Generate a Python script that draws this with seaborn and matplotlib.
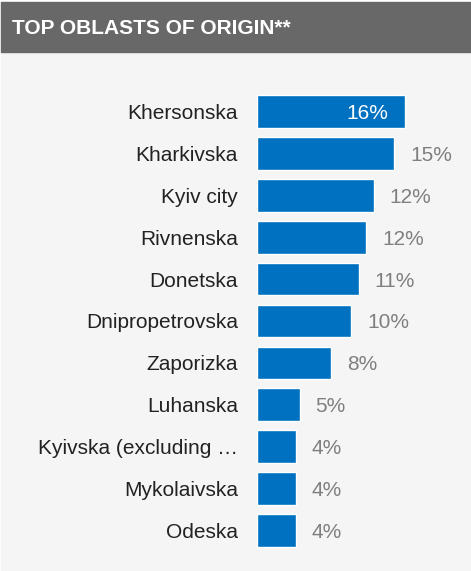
import matplotlib
matplotlib.use('Agg')
import matplotlib.pyplot as plt
from matplotlib.patches import Rectangle
import seaborn as sns
import pandas as pd

# данные
oblasts = ['Khersonska', 'Kharkivska', 'Kyiv city', 'Rivnenska', 'Donetska',
           'Dnipropetrovska', 'Zaporizka', 'Luhanska', 'Kyivska (excluding \u2026',
           'Mykolaivska', 'Odeska']
shares = [16.0, 14.8, 12.6, 11.8, 11.0, 10.2, 8.0, 4.6, 4.2, 4.2, 4.2]
share_labels = ['16%', '15%', '12%', '12%', '11%', '10%', '8%', '5%', '4%', '4%', '4%']

df = pd.DataFrame({'oblast': oblasts, 'share': shares})

sns.set_theme(style='white')
plt.rcParams['font.family'] = ['Liberation Sans', 'DejaVu Sans']

W, H = 471, 571
fig = plt.figure(figsize=(W / 100, H / 100), dpi=100, facecolor='white')

# фон и шапка
fig.add_artist(Rectangle((1 / W, 1 / H), (W - 1) / W, (H - 53) / H,
                         transform=fig.transFigure, color='#f5f5f5', zorder=0))
fig.add_artist(Rectangle((1 / W, 1 - 52 / H), (W - 1) / W, 50 / H,
                         transform=fig.transFigure, color='#686868', zorder=0))
fig.text(12 / W, 1 - 34 / H, 'TOP OBLASTS OF ORIGIN**', color='white',
         fontsize=15, fontweight='bold', va='baseline', ha='left')

px = 9.25  # пикселей на 1%
ax = fig.add_axes([257 / W, 1 - 551.5 / H, 185 / W, 461 / H])
ax.set_facecolor('none')
sns.barplot(data=df, x='share', y='oblast', color='#0070c0', saturation=1,
            width=0.78, orient='h', ax=ax)
ax.set_xlim(0, 185 / px)
ax.set_ylim(len(oblasts) - 0.5, -0.5)

for i, (v, lab) in enumerate(zip(shares, share_labels)):
    if i == 0:
        ax.annotate(lab, (v, i), xytext=(-17 * 0.72, 0), textcoords='offset points',
                    ha='right', va='center_baseline', color='white', fontsize=15)
    else:
        ax.annotate(lab, (v, i), xytext=(16 * 0.72, 0), textcoords='offset points',
                    ha='left', va='center_baseline', color='#7f7f7f', fontsize=15)

ax.set_xlabel('')
ax.set_ylabel('')
ax.set_xticks([])
ax.tick_params(axis='y', length=0, pad=19 * 0.72, labelsize=15, labelcolor='#222222')
sns.despine(ax=ax, left=True, bottom=True)

fig.savefig('out.png', dpi=100)
